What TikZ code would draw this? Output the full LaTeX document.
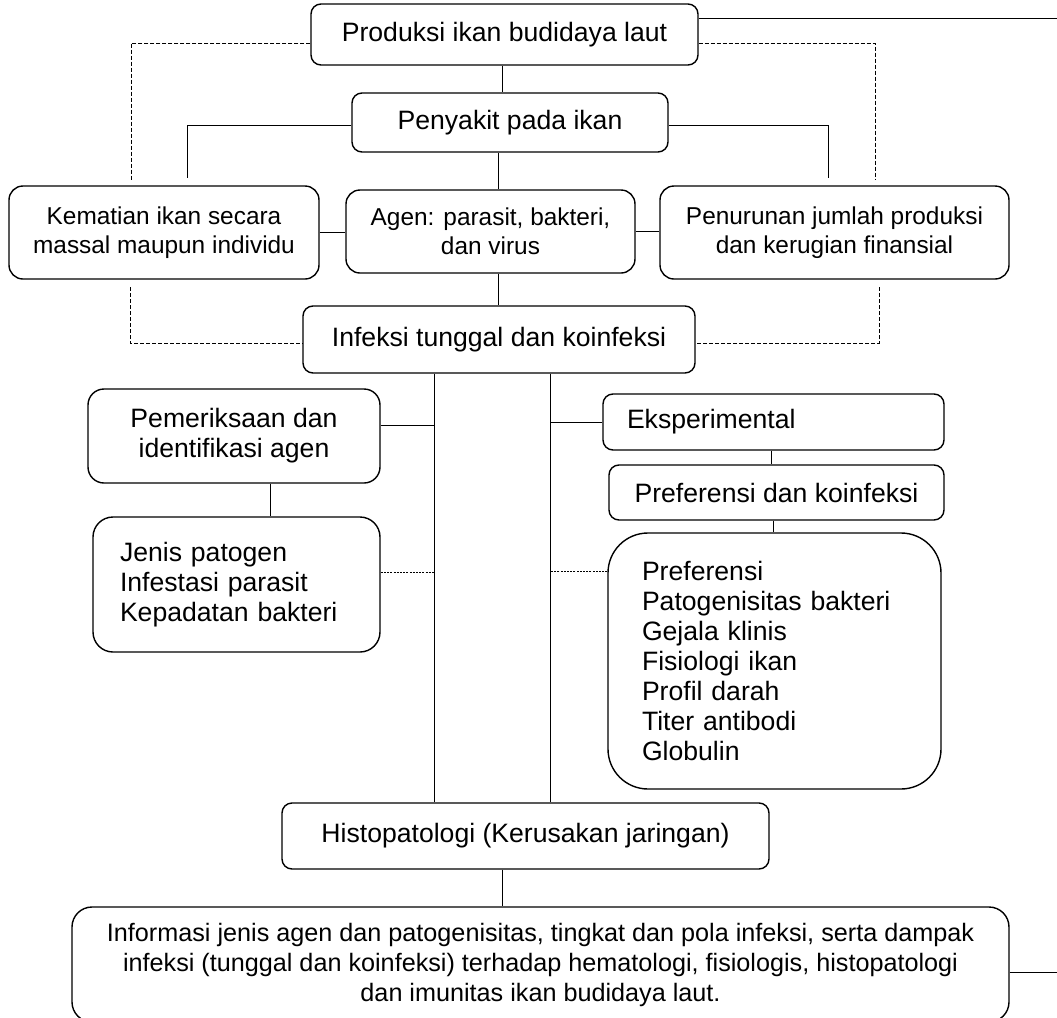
\documentclass[tikz,border=0pt]{standalone}
\usepackage{fontspec}
\setmainfont{Liberation Sans}
\begin{document}
\begin{tikzpicture}[x=0.5pt, y=-0.5pt,
        kotak/.style={draw, line width=0.7pt, rounded corners=5pt, inner sep=0pt, align=center, font=\fontsize{13.3}{15}\selectfont},
        kecil/.style={kotak, font=\fontsize{12.2}{14.5}\selectfont},
        garis/.style={line width=0.5pt},
        putus/.style={line width=0.5pt, dash pattern=on 2pt off 1pt},
        titik/.style={line width=0.4pt, dash pattern=on 1pt off 0.6pt}]
        \useasboundingbox (0,0) rectangle (1057,1018);

        \node[kotak, minimum width=193.5pt, minimum height=30.5pt] (produksi) at (504.5,34.5) {Produksi ikan budidaya laut};
        \node[kotak, minimum width=158pt, minimum height=29.5pt] (penyakit) at (510,122.5) {Penyakit pada ikan};
        \node[kecil, minimum width=155pt, minimum height=46.5pt, rounded corners=7pt] (kematian) at (164,232.5) {Kematian ikan secara\\massal maupun individu};
        \node[kecil, minimum width=144.5pt, minimum height=41.5pt, rounded corners=7pt] (agen) at (490.5,231.5) {Agen: parasit, bakteri,\\dan virus};
        \node[kecil, minimum width=174.5pt, minimum height=46.5pt, rounded corners=7pt] (penurunan) at (834.5,232.5) {Penurunan jumlah produksi\\dan kerugian finansial};
        \node[kotak, minimum width=196pt, minimum height=33.5pt] (infeksi) at (499,339.5) {Infeksi tunggal dan koinfeksi};
        \node[kotak, minimum width=146pt, minimum height=47pt, rounded corners=8pt] (pemeriksaan) at (234,436) {Pemeriksaan dan\\identifikasi agen};
        \node[kotak, minimum height=67.5pt, text width=116.5pt, inner xsep=13.5pt, align=left, rounded corners=10pt] (jenis) at (236.5,584.5) {Jenis patogen\\Infestasi parasit\\Kepadatan bakteri};
        \node[kotak, minimum height=28pt, text width=146.5pt, inner xsep=12pt, align=left] (eksperimen) at (773.5,422) {Eksperimental};
        \node[kotak, minimum width=167.5pt, minimum height=27.5pt] (preferensi) at (776.5,492.5) {Preferensi dan koinfeksi};
        \node[kotak, minimum height=128pt, text width=132.5pt, inner xsep=17pt, align=left, rounded corners=20pt] (daftar) at (774.5,661) {Preferensi\\Patogenisitas bakteri\\Gejala klinis\\Fisiologi ikan\\Profil darah\\Titer antibodi\\Globulin};
        \node[kotak, minimum width=243.5pt, minimum height=33pt] (histo) at (525.5,836) {Histopatologi (Kerusakan jaringan)};
        \node[kecil, font=\fontsize{12.6}{15}\selectfont, minimum width=468.5pt, minimum height=57.5pt, rounded corners=10pt] (informasi) at (540.5,964.5) {Informasi jenis agen dan patogenisitas, tingkat dan pola infeksi, serta dampak\\infeksi (tunggal dan koinfeksi) terhadap hematologi, fisiologis, histopatologi\\dan imunitas ikan budidaya laut.};

        % ujung garis bebas
        \coordinate (atas kanan) at (1057,18);
        \coordinate (bawah kanan) at (1057,972);
        \coordinate (ujung mati) at (187,178);
        \coordinate (ujung turun) at (828,178);
        \coordinate (putus kiri) at (131,180);
        \coordinate (putus kanan) at (875,180);
        \coordinate (putus mati) at (130,287);
        \coordinate (putus turun) at (879,287);
        \coordinate (kiri) at ([xshift=-32.5pt]infeksi.south);
        \coordinate (kanan) at ([xshift=25.5pt]infeksi.south);

        \draw[garis] ([yshift=8.25pt]produksi.east) -- (atas kanan);
        \draw[garis] ([xshift=-1.25pt]produksi.south) -- ([xshift=-1.25pt]produksi.south |- penyakit.north);
        \draw[garis] ([yshift=-1.25pt]penyakit.west) -| (ujung mati);
        \draw[garis] ([yshift=-1.25pt]penyakit.east) -| (ujung turun);
        \draw[garis] ([xshift=-6pt]penyakit.south) -- ([xshift=-6pt]penyakit.south |- agen.north);
        \draw[garis] (kematian.east) -- (kematian.east -| agen.west);
        \draw[garis] (agen.east) -- (agen.east -| penurunan.west);
        \draw[garis] ([xshift=3.75pt]agen.south) -- ([xshift=3.75pt]agen.south |- infeksi.north);

        \draw[putus] ([yshift=-4.25pt]produksi.west) -| (putus kiri);
        \draw[putus] ([yshift=-4.25pt]produksi.east) -| (putus kanan);
        \draw[putus] (putus mati) |- ([yshift=-1.75pt]infeksi.west);
        \draw[putus] (putus turun) |- ([yshift=-1.75pt]infeksi.east);

        \draw[garis] (kiri) -- (kiri |- histo.north);
        \draw[garis] (kanan) -- (kanan |- histo.north);
        \draw[garis] ([yshift=5.5pt]pemeriksaan.east) -- ([yshift=5.5pt]pemeriksaan.east -| kiri);
        \draw[garis] ([xshift=18pt]pemeriksaan.south) -- ([xshift=18pt]pemeriksaan.south |- jenis.north);
        \draw[titik] ([yshift=6.25pt]jenis.east) -- ([yshift=6.25pt]jenis.east -| kiri);
        \draw[garis] (eksperimen.west) -- (eksperimen.west -| kanan);
        \draw[garis] ([xshift=-1.25pt]eksperimen.south) -- ([xshift=-1.25pt]eksperimen.south |- preferensi.north);
        \draw[garis] ([xshift=-1.75pt]preferensi.south) -- ([xshift=-1.75pt]preferensi.south |- daftar.north);
        \draw[titik] ([yshift=45pt]daftar.west) -- ([yshift=45pt]daftar.west -| kanan);

        \draw[garis] ([xshift=-11.75pt]histo.south) -- ([xshift=-11.75pt]histo.south |- informasi.north);
        \draw[garis] ([yshift=-3.75pt]informasi.east) -- (bawah kanan);
\end{tikzpicture}
\end{document}
